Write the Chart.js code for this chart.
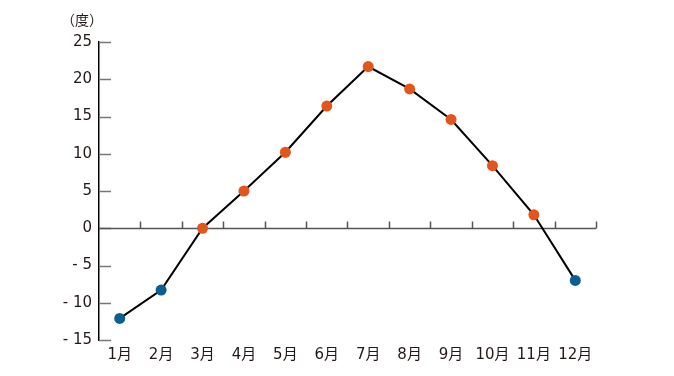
<!DOCTYPE html>
<html>
<head>
<meta charset="utf-8">
<script src="https://cdn.jsdelivr.net/npm/chart.js@4/dist/chart.umd.min.js"></script>
<style>
  html, body { margin: 0; padding: 0; background: #fff; }
  #wrap { width: 674px; height: 376px; position: relative; }
</style>
</head>
<body>
<div id="wrap"><canvas id="c"></canvas></div>
<script>
// 月ごとの気温
const months = ['1月', '2月', '3月', '4月', '5月', '6月', '7月', '8月', '9月', '10月', '11月', '12月']
const temps = [-12.1, -8.3, 0.0, 5.0, 10.2, 16.4, 21.7, 18.7, 14.6, 8.4, 1.8, -7.0]
const yTicks = [-15, -10, -5, 0, 5, 10, 15, 20, 25]
const unitLabel = '（度）'

const ORANGE = '#e2561c'
const BLUE = '#0b5f8e'
const TEXT = '#231815'
const FONT = "'DejaVu Sans', 'Noto Sans CJK JP', sans-serif"

// 0度未満は青、それ以外はオレンジ
const pointColors = temps.map(v => v < 0 ? BLUE : ORANGE)

// 軸まわりの装飾（内向き目盛り・0度線・区切り目盛り・単位）
const axisDeco = {
  id: 'axisDeco',
  beforeDatasetsDraw(chart) {
    const { ctx, chartArea, scales: { x, y } } = chart
    ctx.save()
    ctx.lineWidth = 1.5
    ctx.strokeStyle = '#777'
    yTicks.forEach(v => {
      const py = Math.round(y.getPixelForValue(v)) + 0.5
      ctx.beginPath()
      ctx.moveTo(chartArea.left, py)
      ctx.lineTo(chartArea.left + 12, py)
      ctx.stroke()
    })
    // 0度線
    const y0 = Math.round(y.getPixelForValue(0)) + 0.5
    ctx.strokeStyle = '#555'
    ctx.beginPath()
    ctx.moveTo(chartArea.left, y0)
    ctx.lineTo(chartArea.right, y0)
    ctx.stroke()
    // 区切り目盛り
    const half = (x.getPixelForValue(1) - x.getPixelForValue(0)) / 2
    for (let i = 0; i < months.length; i++) {
      const px = Math.round(x.getPixelForValue(i) + half) + 0.5
      ctx.beginPath()
      ctx.moveTo(px, y0)
      ctx.lineTo(px, y0 - 7)
      ctx.stroke()
    }
    // 単位
    ctx.fillStyle = TEXT
    ctx.font = '14px ' + FONT
    ctx.textAlign = 'center'
    ctx.textBaseline = 'middle'
    ctx.fillText(unitLabel, 82, 21)
    ctx.restore()
  }
}

new Chart(document.getElementById('c'), {
  type: 'line',
  data: {
    labels: months,
    datasets: [{
      data: temps,
      borderColor: '#000',
      borderWidth: 2,
      tension: 0,
      pointRadius: 5.5,
      pointHoverRadius: 5.5,
      pointBorderWidth: 0,
      pointBackgroundColor: pointColors,
      pointBorderColor: pointColors,
      clip: false,
    }]
  },
  options: {
    responsive: true,
    maintainAspectRatio: false,
    animation: false,
    layout: { padding: { left: 0, top: 42, right: 78, bottom: 0 } },
    plugins: { legend: { display: false }, tooltip: { enabled: false } },
    scales: {
      x: {
        offset: true,
        grid: { display: false, drawTicks: false },
        border: { display: false },
        ticks: { color: TEXT, font: { size: 15, family: FONT }, padding: 6, maxRotation: 0 },
        afterFit: s => { s.height = 36 },
      },
      y: {
        min: -15,
        max: 25,
        afterBuildTicks: s => { s.ticks = yTicks.map(v => ({ value: v })) },
        grid: { display: false, drawTicks: false },
        border: { display: true, color: '#000', width: 1.5 },
        ticks: {
          color: TEXT,
          font: { size: 15, family: FONT },
          padding: 7,
          callback: v => v < 0 ? '- ' + Math.abs(v) : String(v),
        },
        afterFit: s => { s.width = 99 },
      }
    }
  },
  plugins: [axisDeco]
})
</script>
</body>
</html>
